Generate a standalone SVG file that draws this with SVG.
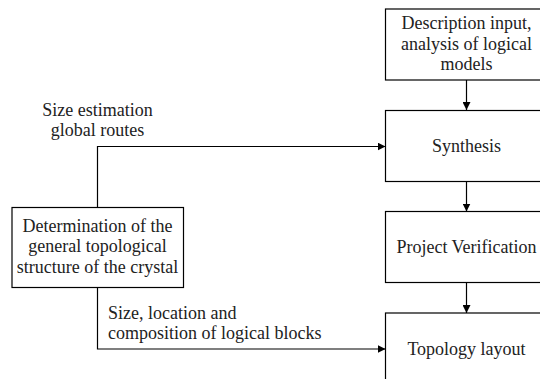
<svg xmlns="http://www.w3.org/2000/svg" width="540" height="379" viewBox="0 0 540 379">
<defs>
<marker id="ah" viewBox="0 0 10 10" refX="10" refY="5" markerWidth="8" markerHeight="8" markerUnits="userSpaceOnUse" orient="auto">
<path d="M0,0 L10,5 L0,10 z" fill="#000"/>
</marker>
<style>
.box{fill:#fff;stroke:#000;stroke-width:1.2}
.t{font-size:18px;fill:#222}
.c{text-anchor:middle}
.ln{fill:none;stroke:#000;stroke-width:1.2;marker-end:url(#ah)}
</style>
</defs>
<rect width="540" height="379" fill="#fff"/>
<g id="connectors">
<path class="ln" d="M466.5,80 V110"/>
<path class="ln" d="M466.5,181.5 V211.5"/>
<path class="ln" d="M466.5,282.5 V313"/>
<path class="ln" d="M97.5,207.5 V146.5 H385.5"/>
<path class="ln" d="M97.5,287.5 V349 H385.5"/>
</g>
<g font-family="'Liberation Serif', 'Times New Roman', serif">
<g id="n-description">
<rect class="box" x="385.5" y="9" width="163" height="71"/>
<text class="t c" x="466.5" y="29">Description input,</text>
<text class="t c" x="466.5" y="49.5">analysis of logical</text>
<text class="t c" x="466.5" y="70">models</text>
</g>
<g id="n-synthesis">
<rect class="box" x="385.5" y="110.5" width="163" height="71"/>
<text class="t c" x="466.5" y="152">Synthesis</text>
</g>
<g id="n-verification">
<rect class="box" x="385.5" y="211.5" width="163" height="71"/>
<text class="t c" x="466.5" y="253">Project Verification</text>
</g>
<g id="n-topology">
<rect class="box" x="385.5" y="313" width="163" height="75"/>
<text class="t c" x="466.5" y="355">Topology layout</text>
</g>
<g id="n-determination">
<rect class="box" x="12" y="207.5" width="171.5" height="80"/>
<text class="t c" x="97.5" y="232">Determination of the</text>
<text class="t c" x="97.5" y="252">general topological</text>
<text class="t c" x="97.5" y="273">structure of the crystal</text>
</g>
<g id="labels">
<text class="t c" x="97.5" y="116">Size estimation</text>
<text class="t c" x="97.5" y="136">global routes</text>
<text class="t" x="108" y="319">Size, location and</text>
<text class="t" x="108" y="339">composition of logical blocks</text>
</g>
</g>
</svg>
